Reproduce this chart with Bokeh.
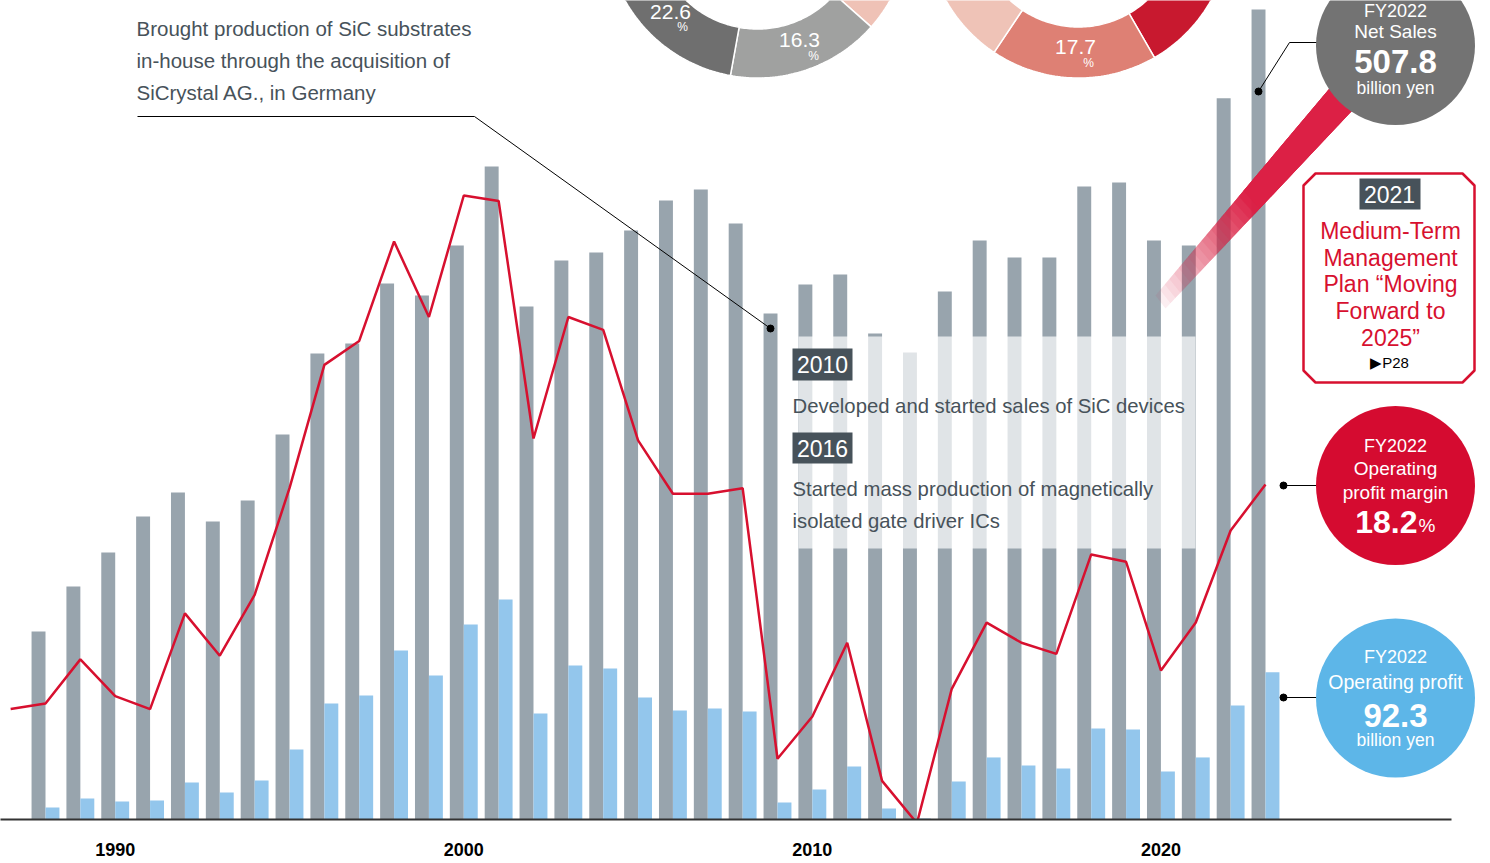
import numpy as np
from bokeh.plotting import figure
from bokeh.models import Range1d, FixedTicker, Label, ColumnDataSource
from bokeh.transform import dodge
from bokeh.embed import file_html
from bokeh.resources import INLINE

# ---------------- data ----------------
years = list(range(1988, 2024))
net_sales = [117.9, 146.1, 167.4, 190.0, 205.0, 186.8, 200.0, 241.4, 292.2, 298.4,
             336.0, 328.5, 359.9, 409.4, 321.6, 350.5, 355.5, 369.3, 388.1, 395.0,
             373.7, 317.2, 335.4, 341.7, 304.7, 292.8, 331.0, 363.0, 352.4, 352.4,
             396.9, 399.4, 363.0, 359.9, 452.1, 507.8]
op_profit = [7.5, 13.2, 11.3, 11.9, 23.2, 16.9, 24.5, 43.9, 72.7, 77.7,
             106.0, 90.3, 122.3, 137.9, 66.5, 96.6, 94.7, 76.5, 68.3, 69.6,
             67.7, 10.7, 18.8, 33.2, 6.9, 0.6, 23.8, 38.9, 33.9, 32.0,
             57.1, 56.4, 30.1, 38.9, 71.5, 92.3]
margin_years = list(range(1987, 2024))
margin = [6.0, 6.3, 8.7, 6.7, 6.0, 11.2, 8.9, 12.2, 18.0, 24.7, 26.0, 31.4, 27.3,
          33.9, 33.6, 20.7, 27.3, 26.6, 20.6, 17.7, 17.7, 18.0, 3.3, 5.6, 9.6,
          2.1, -0.2, 7.1, 10.7, 9.6, 9.0, 14.4, 14.0, 8.1, 10.7, 15.7, 18.2]
tick_years = [1990, 2000, 2010, 2020]

left_donut_labels = ["", "16.3", "22.6"]
left_donut_shares = [12.0, 16.3, 22.6]
right_donut_labels = ["", "17.7", ""]
right_donut_shares = [30.0, 17.7, 15.0]

# ---------------- geometry helpers (image px -> data) ----------------
PXX = 34.857
X0 = 1988 - 45 / PXX
PXY = 1.5951
PXM = 18.407
BASE = 819


def X(px):
    return X0 + px / PXX


def Y(py):
    return (BASE - py) / PXY


SANS = "Liberation Sans"
DARK = "#47525a"
GRAY = "#98a4ad"
BLUE = "#93c6ec"
RED = "#d7102f"

p = figure(width=1490, height=863,
           x_range=Range1d(X(0), X(1490)), y_range=Range1d(0, Y(0)),
           output_backend="svg", toolbar_location=None,
           min_border_left=0, min_border_right=0, min_border_top=0, min_border_bottom=863 - BASE,
           x_axis_location="below", y_axis_location=None,
           outline_line_color=None, background_fill_color="white",
           border_fill_color="white")
p.grid.visible = False
p.extra_y_ranges = {"m": Range1d(0, BASE / PXM)}

ax = p.xaxis[0]
ax.ticker = FixedTicker(ticks=tick_years)
ax.axis_line_color = "#333333"
ax.axis_line_width = 2
ax.major_tick_line_color = None
ax.minor_tick_line_color = None
ax.major_tick_out = 0
ax.major_tick_in = 0
ax.major_label_standoff = 23
ax.major_label_text_font = SANS
ax.major_label_text_font_size = "18px"
ax.major_label_text_font_style = "bold"
ax.major_label_text_color = "black"
ax.bounds = (X(0), X(1451))

src = ColumnDataSource(dict(year=years, sales=net_sales, profit=op_profit))
p.vbar(x=dodge("year", -0.2, range=p.x_range), top="sales", width=0.4, bottom=0,
       source=src, fill_color=GRAY, line_color=None)
p.vbar(x=dodge("year", 0.2, range=p.x_range), top="profit", width=0.4, bottom=0,
       source=src, fill_color=BLUE, line_color=None)

# translucent white panel behind 2010/2016 notes
p.quad(left=X(798), right=X(1195), bottom=Y(548), top=Y(336),
       fill_color="white", fill_alpha=0.7, line_color=None)

# red margin line
p.line(margin_years, margin, y_range_name="m", line_color=RED, line_width=2.5)


# ---------------- donuts ----------------
def donut(cx, cy, r_in, r_out, shares, colors, start_deg):
    xs, ys = [], []
    a = start_deg
    for s in shares:
        a1 = a - s * 3.6
        ang = np.radians(np.linspace(a, a1, 60))
        ox = cx + r_out * np.cos(ang)
        oy = cy - r_out * np.sin(ang)
        ix = cx + r_in * np.cos(ang[::-1])
        iy = cy - r_in * np.sin(ang[::-1])
        px_ = np.concatenate([ox, ix])
        py_ = np.concatenate([oy, iy])
        xs.append([X(v) for v in px_])
        ys.append([Y(v) for v in py_])
        a = a1
    p.patches(xs, ys, fill_color=colors, line_color="white", line_width=1.5)


donut(757, -74.5, 103, 152, left_donut_shares,
      ["#efc2b6", "#a0a1a0", "#6f6f6f"], -41.6 + left_donut_shares[0] * 3.6)
donut(1078, -74.5, 101, 152, right_donut_shares,
      ["#c8192f", "#de8074", "#efc3b7"], -60.0 + right_donut_shares[0] * 3.6)

# ---------------- red swoosh band (fading, stacked layers) ----------------
U0, U1 = np.array([1155.0, 295.0]), np.array([1340.0, 75.0])
L0, L1 = np.array([1165.0, 308.0]), np.array([1363.0, 98.0])
N = 40
bxs, bys, balpha = [], [], []
prev = 0.0
for k in range(N):
    t0 = k / N
    target = min(1.0, 0.05 + 2.0 * (t0 + 0.5 / N))
    if target >= 0.995:
        a_k = 1.0
    else:
        a_k = 1 - (1 - target) / (1 - prev)
    pts = [U0 + (U1 - U0) * t0, U1, L1, L0 + (L1 - L0) * t0]
    bxs.append([X(q[0]) for q in pts])
    bys.append([Y(q[1]) for q in pts])
    balpha.append(a_k)
    prev = target
    if a_k >= 1.0:
        break
p.patches(xs="xs", ys="ys", fill_alpha="a", source=ColumnDataSource(dict(xs=bxs, ys=bys, a=balpha)),
          fill_color="#dc2045", line_color=None)

# ---------------- leader lines ----------------
p.line([X(137), X(474), X(770)], [Y(116), Y(116), Y(328)], line_color="black", line_width=1)
p.line([X(1258), X(1289), X(1318)], [Y(91), Y(42), Y(42)], line_color="black", line_width=1)
p.line([X(1283), X(1318)], [Y(485), Y(485)], line_color="black", line_width=1)
p.line([X(1283), X(1318)], [Y(697), Y(697)], line_color="black", line_width=1)
p.scatter([X(770), X(1258), X(1283), X(1283)], [Y(328), Y(91), Y(485), Y(697)],
          size=7, color="black")

# ---------------- big circles ----------------
p.scatter([X(1395)] * 3, [Y(45), Y(485), Y(697.5)], size=159, marker="circle",
          fill_color=["#737373", "#d50b30", "#5db6e8"], line_color=None)

# 2021 box with cut corners
bx0, bx1, by0, by1, c = 1303, 1474, 173, 382, 12
box_px = [(bx0 + c, by0), (bx1 - c, by0), (bx1, by0 + c), (bx1, by1 - c), (bx1 - c, by1),
          (bx0 + c, by1), (bx0, by1 - c), (bx0, by0 + c)]
p.patch([X(a) for a, b in box_px], [Y(b) for a, b in box_px], fill_color="white",
        line_color=RED, line_width=2.5)

# dark year tags
p.quad(left=[X(792), X(792), X(1359)], right=[X(852), X(852), X(1420)],
       top=[Y(348), Y(432), Y(178)], bottom=[Y(380), Y(463), Y(209)],
       fill_color=DARK, line_color=None)


# ---------------- texts ----------------
def lab(px, py, s, size, color, align="left", style="normal", font=SANS):
    p.add_layout(Label(x=X(px), y=Y(py), text=s, text_font=font,
                       text_font_size=f"{size}px", text_color=color, text_align=align,
                       text_baseline="middle", text_font_style=style))


lab(136, 28, "Brought production of SiC substrates", 20.5, DARK)
lab(136, 60, "in-house through the acquisition of", 20.5, DARK)
lab(136, 92, "SiCrystal AG., in Germany", 20.5, DARK)

lab(822, 364, "2010", 23, "white", align="center")
lab(792, 405, "Developed and started sales of SiC devices", 20.3, DARK)
lab(822, 448, "2016", 23, "white", align="center")
lab(792, 488, "Started mass production of magnetically", 20.3, DARK)
lab(792, 520, "isolated gate driver ICs", 20.3, DARK)

# donut labels
lab(670, 11, left_donut_labels[2], 21, "white", align="center")
lab(682, 26, "%", 12, "white", align="center")
lab(799, 39, left_donut_labels[1], 21, "white", align="center")
lab(813, 55, "%", 12, "white", align="center")
lab(1075, 46, right_donut_labels[1], 21, "white", align="center")
lab(1088, 62, "%", 12, "white", align="center")

# gray circle
lab(1395, 10, "FY2022", 18, "white", align="center")
lab(1395, 31, "Net Sales", 19, "white", align="center")
lab(1395, 61, "507.8", 33, "white", align="center", style="bold")
lab(1395, 87, "billion yen", 17.5, "white", align="center")

# 2021 plan box
lab(1389, 194, "2021", 23, "white", align="center")
for yy, s in zip([230, 257, 283, 310, 337],
                 ["Medium-Term", "Management", "Plan \u201cMoving", "Forward to", "2025\u201d"]):
    lab(1390, yy, s, 23, RED, align="center")
lab(1389, 362, "\u25b6P28", 15, "black", align="center")

# red circle
lab(1395, 445, "FY2022", 18, "white", align="center")
lab(1395, 468, "Operating", 19, "white", align="center")
lab(1395, 492, "profit margin", 19, "white", align="center")
lab(1417, 521, "18.2", 32, "white", align="right", style="bold")
lab(1418, 525, "%", 19, "white", align="left")

# blue circle
lab(1395, 656, "FY2022", 18, "white", align="center")
lab(1395, 681, "Operating profit", 19.5, "white", align="center")
lab(1395, 715, "92.3", 33, "white", align="center", style="bold")
lab(1395, 739, "billion yen", 17.5, "white", align="center")

open("out.html", "w").write(file_html(p, INLINE))
